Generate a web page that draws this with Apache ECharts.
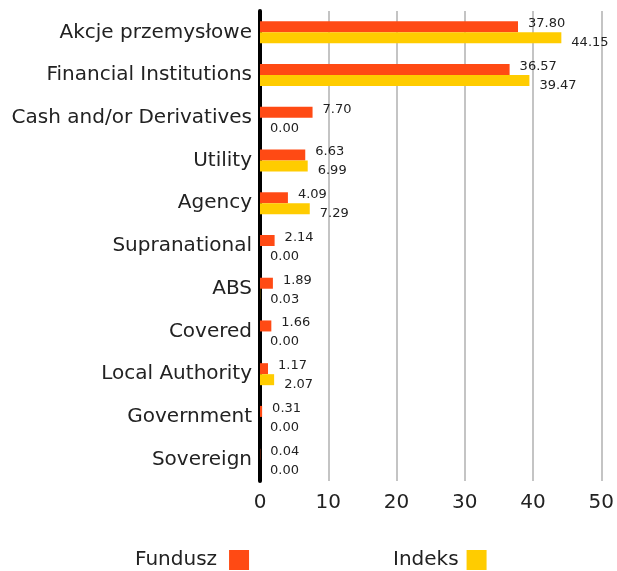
<!DOCTYPE html>
<html><head><meta charset="utf-8">
<script src="https://cdn.jsdelivr.net/npm/echarts@6/dist/echarts.min.js"></script>
<style>html,body{margin:0;padding:0;background:#fff}#c{width:617px;height:571px}</style>
</head><body><div id="c"></div>
<script>
const categories = ["Akcje przemysłowe","Financial Institutions","Cash and/or Derivatives","Utility","Agency","Supranational","ABS","Covered","Local Authority","Government","Sovereign"];
const fundValues = [37.80,36.57,7.70,6.63,4.09,2.14,1.89,1.66,1.17,0.31,0.04];
const indexValues = [44.15,39.47,0.00,6.99,7.29,0.00,0.03,0.00,2.07,0.00,0.00];
const xTicks = [0,10,20,30,40,50];
const seriesNames = ["Fundusz","Indeks"];

const font = "'DejaVu Sans', sans-serif";
const chart = echarts.init(document.getElementById('c'));
chart.setOption({
  animation:false,
  textStyle:{fontFamily:font},
  grid:{left:260,right:12,top:11,bottom:90,containLabel:false},
  xAxis:{type:'value',min:xTicks[0],max:xTicks[xTicks.length-1],interval:10,
    axisLine:{show:false},axisTick:{show:false},
    axisLabel:{fontSize:20,color:'#222',margin:12,fontFamily:font},
    splitLine:{lineStyle:{color:'#c4c4c4',width:2}}},
  yAxis:{type:'category',data:categories,inverse:true,
    axisLine:{show:true,lineStyle:{color:'#000',width:4}},axisTick:{show:false},
    axisLabel:{fontSize:20,color:'#222',margin:8,fontFamily:font},
    splitLine:{show:false}},
  legend:[
    {data:[seriesNames[0]],left:130,top:545,align:'right',itemWidth:20,itemHeight:20,icon:'rect',itemGap:0,
      textStyle:{fontSize:20,color:'#222',fontFamily:font,padding:[0,7,0,0]}},
    {data:[seriesNames[1]],left:388,top:545,align:'right',itemWidth:20,itemHeight:20,icon:'rect',itemGap:0,
      textStyle:{fontSize:20,color:'#222',fontFamily:font,padding:[0,3,0,0]}}
  ],
  series:[
    {name:seriesNames[0],type:'bar',data:fundValues,barWidth:11,barGap:'0%',
      itemStyle:{color:'#FF4A14'},
      label:{show:true,position:'right',distance:10,offset:[0,-3],fontSize:13,color:'#222',fontFamily:font,
        formatter:p=>p.value.toFixed(2)}},
    {name:seriesNames[1],type:'bar',data:indexValues,barWidth:11,
      itemStyle:{color:'#FFCC00'},
      label:{show:true,position:'right',distance:10,offset:[0,5],fontSize:13,color:'#222',fontFamily:font,
        formatter:p=>p.value.toFixed(2)}}
  ]
});
</script></body></html>
